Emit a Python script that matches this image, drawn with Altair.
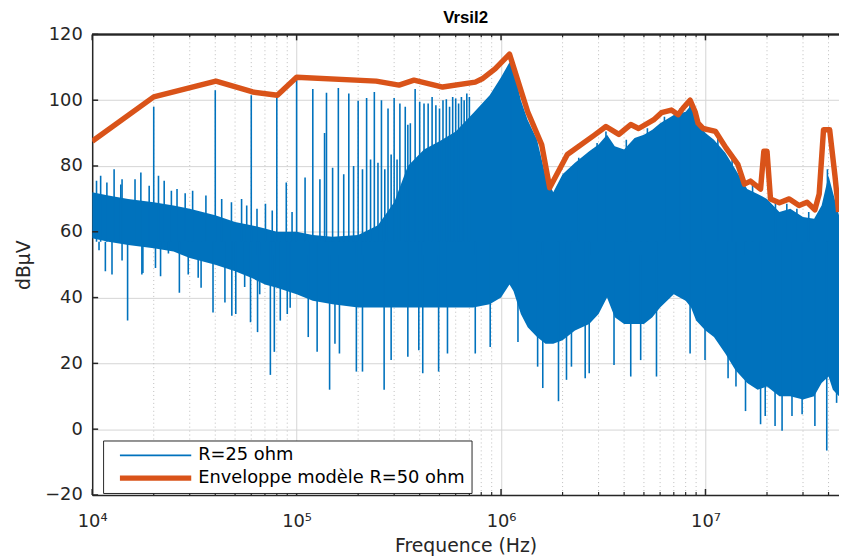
import altair as alt
import pandas as pd

# ---------------- text ----------------
TITLE = "Vrsil2"
X_TITLE = "Frequence (Hz)"
Y_TITLE = "dBµV"
SERIES = ["R=25 ohm", "Enveloppe modèle R=50 ohm"]
X_TICK_VALUES = [1e4, 1e5, 1e6, 1e7]
X_TICK_LABELS = ["10⁴", "10⁵", "10⁶", "10⁷"]
Y_TICK_VALUES = [-20, 0, 20, 40, 60, 80, 100, 120]

band_freq = [1.0e4, 1.2e4, 1.5e4, 2.0e4, 2.5e4, 3.0e4, 4.0e4, 5.0e4, 6.0e4, 7.0e4, 8.0e4,
             1.0e5, 1.2e5, 1.5e5, 2.0e5, 2.5e5, 3.0e5, 3.5e5, 4.2e5, 5.0e5, 6.0e5, 7.3e5, 8.8e5,
             1.0e6, 1.1e6, 1.15e6, 1.25e6, 1.35e6, 1.5e6, 1.65e6, 1.8e6, 2.0e6, 2.3e6, 2.7e6,
             3.0e6, 3.3e6, 3.6e6, 4.0e6, 4.5e6, 5.0e6, 5.5e6, 6.0e6, 7.0e6, 8.0e6, 8.5e6, 9.0e6,
             1.0e7, 1.1e7, 1.25e7, 1.4e7, 1.6e7, 1.8e7, 2.0e7, 2.3e7, 2.6e7, 3.0e7, 3.4e7, 3.7e7,
             4.0e7, 4.2e7, 4.5e7]
band_upper = [72, 71, 70, 69, 68, 67, 65, 63, 62, 61, 60,
              60, 59, 58.5, 59, 62, 69, 80, 85, 87.5, 90.5, 96, 101.5,
              107, 111.5, 110, 100, 94, 88, 77, 72, 77.5, 81, 84.5,
              86.5, 89.5, 86, 85, 88.5, 89.5, 91, 93, 95.5, 96.5, 98.5, 94,
              90, 88, 84, 79, 73, 71.5, 70, 66, 67, 64.5, 64, 68,
              77, 72, 65]
band_lower = [58, 57, 56, 55, 54, 52, 50, 48, 46, 44, 43,
              41, 39, 38, 37, 37, 37, 37, 37, 37, 37, 37, 38,
              40, 44, 42, 35, 31, 28, 26, 26, 27, 30, 32,
              35, 40, 34, 32, 32, 32, 34, 37, 41, 39, 37, 33,
              30, 28, 23, 18, 14, 12, 13, 10, 10, 9, 10, 14,
              16, 12, 10]

# upward spikes (harmonics and noise peaks)
spike_freq = [2e4, 4e4, 6e4, 8e4, 1e5, 1.2e5, 1.4e5, 1.6e5, 1.8e5, 2e5, 2.2e5, 2.4e5, 2.6e5,
              2.8e5, 3e5, 3.2e5, 3.4e5, 3.6e5, 3.8e5, 4e5, 4.2e5, 4.4e5, 4.6e5, 4.8e5, 5e5,
              5.2e5, 5.4e5, 5.6e5, 5.8e5, 6e5, 6.2e5, 6.4e5, 6.6e5, 6.8e5, 7e5,
              1.05e4, 1.1e4, 1.18e4, 1.28e4, 1.38e4, 1.4e4, 1.62e4, 1.73e4, 1.9e4, 2.11e4,
              2.25e4, 2.44e4, 2.6e4, 2.85e4, 3.1e4, 3.6e4, 4.3e4, 4.8e4, 5.38e4, 5.7e4,
              6.4e4, 7.04e4, 7.6e4, 8.9e4, 9.5e4,
              1.1e5, 1.3e5, 1.37e5, 1.5e5, 1.7e5, 1.9e5, 2.1e5, 2.3e5, 2.5e5, 2.7e5, 2.9e5,
              3.1e5, 3.5e5, 1.12e6, 3.26e6, 8.4e6, 3.95e7,
              2.4e6, 2.95e6, 4.1e6, 5.2e6, 6.3e6, 7.5e6, 9.6e6, 1.15e7, 1.35e7, 1.7e7,
              2.2e7, 2.5e7, 2.8e7, 3.2e7]
spike_top = [98, 103, 101.5, 101, 106.5, 103.4, 102.3, 103.7, 102, 99.8, 100.7, 102.5, 100,
             97.5, 100.7, 99, 98, 93, 103.4, 99.5, 99, 99, 101, 98.5, 97.5,
             100, 100.3, 98, 101, 100.5, 99, 101, 100, 102, 101,
             75.5, 77, 75, 79, 74.4, 76, 76, 78, 74, 77,
             75.5, 72.5, 73, 71.7, 72.5, 71, 70, 69, 70, 68,
             67, 68.5, 66.5, 75, 66,
             76.5, 76, 90, 79.5, 77.5, 80, 79, 82, 81, 79, 83.5,
             82, 92.5, 113.5, 90.5, 99.5, 79,
             82.5, 87, 88, 91.5, 95, 97.5, 92.5, 89, 83, 74.5,
             70, 68.5, 67, 66]

# downward dips
dip_freq = [1.08e4, 1.16e4, 1.25e4, 1.4e4, 1.49e4, 1.75e4, 1.77e4, 2.04e4, 2.16e4, 2.36e4,
            2.67e4, 2.95e4, 3.3e4, 3.41e4, 3.9e4, 4.46e4, 4.82e4,
            5.04e4, 5.57e4, 5.95e4, 6.44e4, 6.6e4, 7.44e4, 7.78e4, 8.32e4, 9.0e4, 9.3e4,
            1.14e5, 1.26e5, 1.45e5,
            1.54e5, 1.62e5, 1.96e5, 2.1e5, 2.68e5, 2.9e5, 3.5e5, 3.96e5, 4.14e5, 4.95e5,
            5.47e5, 7.48e5, 8.85e5, 1.21e6, 1.51e6, 1.6e6, 1.91e6, 2.09e6, 2.21e6, 2.58e6,
            2.7e6, 3.57e6, 4.31e6, 4.82e6, 5.76e6, 8.41e6, 9.95e6, 1.29e7, 1.41e7, 1.57e7,
            1.86e7, 1.96e7, 2.19e7, 2.37e7, 2.65e7, 2.97e7, 3.43e7, 3.92e7, 4.38e7]
dip_bottom = [54.4, 48, 47, 51.3, 33, 47, 47.5, 49, 46.5, 53.4,
              41.5, 47, 46, 43, 35.5, 38.5, 34.5,
              35, 43.2, 32.5, 29.5, 41, 16.5, 23.5, 33, 35, 36.9,
              28, 23.5, 12,
              26, 23, 17.5, 17.5, 12, 21, 22, 24, 17, 17.5,
              23, 23, 25, 26.5, 19, 12.5, 8.5, 15, 19, 15.5,
              17, 19.5, 16, 21, 16, 23, 21, 15.5, 13, 5.5,
              1.5, 4, 1, -0.5, 4, 4.5, 1, -6.5, 8]

# ---------------- envelope model R=50 ohm ----------------
env_freq = [1e4, 2e4, 4.03e4, 6.1e4, 8.05e4, 1e5, 2.45e5, 3.17e5, 3.75e5, 5.18e5, 7.48e5,
            8.09e5, 9.35e5, 1.1e6, 1.35e6, 1.58e6, 1.73e6, 2.11e6, 2.85e6, 3.26e6, 3.77e6,
            4.31e6, 4.71e6, 5.57e6, 6.09e6, 6.81e6, 7.36e6, 7.79e6, 8.42e6, 8.9e6, 9.2e6,
            9.73e6, 1.12e7, 1.26e7, 1.44e7, 1.55e7, 1.66e7, 1.86e7, 1.93e7, 2.0e7, 2.08e7,
            2.3e7, 2.57e7, 2.87e7, 3.14e7, 3.43e7, 3.6e7, 3.78e7, 4.05e7, 4.3e7, 4.48e7]
env_val = [87.5, 101, 105.8, 102.5, 101.5, 107, 105.8, 104.6, 106.1, 104, 105.5,
           106.5, 109.5, 114, 96.5, 86.5, 73.4, 83.5, 89.3, 92, 89.6,
           92.6, 91.4, 94, 96.2, 97, 95.6, 97.7, 100, 96.5, 93,
           91.4, 90.5, 85.5, 80.5, 74.5, 75.4, 73, 84.5, 84.5, 70,
           68.8, 70, 68, 69, 66.7, 71.5, 91, 91, 77, 66]

# ---------------- style ----------------
BLUE = "#0072BD"
ORANGE = "#D95319"
AX = "#262626"
FONT = "DejaVu Sans"
W, H = 754, 465
BASE = 57

major_ticks = X_TICK_VALUES
minor_ticks = [k * 10 ** d for d in range(4, 8) for k in range(2, 10) if k * 10 ** d <= 4.5e7]

band_df = pd.DataFrame({"f": band_freq, "upper": band_upper, "lower": band_lower})
spike_df = pd.DataFrame({"f": spike_freq, "v": spike_top, "base": BASE})
dip_df = pd.DataFrame({"f": dip_freq, "v": dip_bottom, "base": BASE})
env_df = pd.DataFrame({"f": env_freq, "v": env_val, "series": SERIES[1]})
major_df = pd.DataFrame({"f": major_ticks})
minor_df = pd.DataFrame({"f": minor_ticks})
ytick_df = pd.DataFrame({"v": Y_TICK_VALUES})

xs = alt.Scale(type="log", domain=[1e4, 4.5e7], nice=False)
ys = alt.Scale(domain=[-20, 120], nice=False)

label_expr = " : ".join(
    f"datum.value == {int(v)} ? '{t}'" for v, t in zip(X_TICK_VALUES, X_TICK_LABELS)
) + " : ''"

x_axis = alt.Axis(values=X_TICK_VALUES, labelExpr=label_expr, title=X_TITLE, grid=True,
                  gridColor="#d4d4d4", gridWidth=1, ticks=False, domainColor=AX,
                  domainWidth=1.5, labelFont=FONT, labelFontSize=18, labelColor=AX,
                  labelPadding=18, labelFlush=False, labelOverlap=False,
                  titleFont=FONT, titleFontSize=19, titleFontWeight="normal",
                  titleColor=AX, titlePadding=6)
y_axis = alt.Axis(values=Y_TICK_VALUES, title=Y_TITLE, grid=True, gridColor="#d4d4d4",
                  gridWidth=1, ticks=False, domainColor=AX, domainWidth=1.5,
                  labelFont=FONT, labelFontSize=18, labelColor=AX, labelPadding=10,
                  titleFont=FONT, titleFontSize=19, titleFontWeight="normal",
                  titleColor=AX, titlePadding=11)


def X():
    return alt.X("f:Q", scale=xs, axis=x_axis)


def Y(field):
    return alt.Y(f"{field}:Q", scale=ys, axis=y_axis)


minor_grid = alt.Chart(minor_df).mark_rule(color="#bdbdbd", strokeDash=[1, 3], strokeWidth=1).encode(
    x=X(), y=alt.value(0), y2=alt.value(H))

band = alt.Chart(band_df).mark_area(color=BLUE, opacity=1, clip=True).encode(
    x=X(), y=Y("upper"), y2="lower")

spikes = alt.Chart(spike_df).mark_rule(color=BLUE, strokeWidth=1.6, clip=True).encode(
    x=X(), y=Y("v"), y2="base")

dips = alt.Chart(dip_df).mark_rule(color=BLUE, strokeWidth=1.6, clip=True).encode(
    x=X(), y=Y("v"), y2="base")

legend = alt.Legend(title=None, orient="none", legendX=11, legendY=410, direction="vertical",
                    fillColor="white", strokeColor=AX, padding=6,
                    symbolType="stroke", symbolSize=5184,
                    symbolOffset=8, clipHeight=18, rowPadding=5,
                    labelFont=FONT, labelFontSize=18, labelColor="black", labelOffset=4,
                    labelLimit=600)

env = alt.Chart(env_df).mark_line(clip=True, strokeJoin="round").encode(
    x=X(), y=Y("v"),
    color=alt.Color("series:N", scale=alt.Scale(domain=SERIES, range=[BLUE, ORANGE]), legend=legend),
    strokeWidth=alt.StrokeWidth("series:N", scale=alt.Scale(domain=SERIES, range=[1.8, 5.5]), legend=legend))

tick_major_b = alt.Chart(major_df).mark_rule(color=AX, strokeWidth=1.5).encode(
    x=X(), y=alt.value(H), y2=alt.value(H - 6))
tick_minor_b = alt.Chart(minor_df).mark_rule(color=AX, strokeWidth=1.2).encode(
    x=X(), y=alt.value(H), y2=alt.value(H - 3))
tick_major_t = alt.Chart(major_df).mark_rule(color=AX, strokeWidth=1.5).encode(
    x=X(), y=alt.value(0), y2=alt.value(6))
tick_minor_t = alt.Chart(minor_df).mark_rule(color=AX, strokeWidth=1.2).encode(
    x=X(), y=alt.value(0), y2=alt.value(3))
tick_y = alt.Chart(ytick_df).mark_rule(color=AX, strokeWidth=1.5).encode(
    y=Y("v"), x=alt.value(0), x2=alt.value(6))
top_line = alt.Chart(major_df).mark_rule(color=AX, strokeWidth=1.5).encode(
    x=alt.value(0), x2=alt.value(W), y=alt.value(0))

chart = alt.layer(
    minor_grid, band, spikes, dips, env,
    tick_major_b, tick_minor_b, tick_major_t, tick_minor_t, tick_y, top_line
).properties(
    width=W, height=H,
    title=alt.TitleParams(TITLE, font="Liberation Sans", fontSize=17, fontWeight="bold",
                          color="black", offset=8, dy=9, anchor="middle"),
    autosize=alt.AutoSizeParams(type="none"),
    padding={"left": 85, "top": 24, "right": 0, "bottom": 63},
).configure_view(stroke=None)

chart.save("out.html", embed_options={"renderer": "svg", "actions": False})
